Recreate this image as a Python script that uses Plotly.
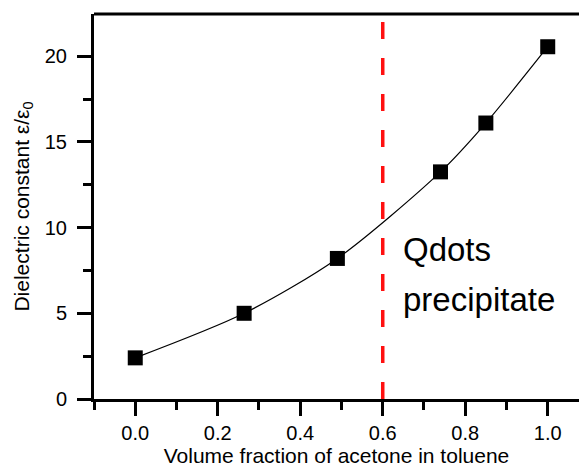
import plotly.graph_objects as go

volume_fraction = [0.0, 0.264, 0.49, 0.74, 0.85, 1.0]
dielectric = [2.4, 5.0, 8.2, 13.25, 16.1, 20.55]
x_ticks = [0.0, 0.2, 0.4, 0.6, 0.8, 1.0]
x_tick_labels = ["0.0", "0.2", "0.4", "0.6", "0.8", "1.0"]
y_ticks = [0, 5, 10, 15, 20]
precip_threshold = 0.6
annotation_lines = ["Qdots", "precipitate"]
annotation_y = [8.7, 5.8]

FONT = "Liberation Sans, Arial, sans-serif"

fig = go.Figure()
fig.add_trace(go.Scatter(
    x=volume_fraction, y=dielectric, mode="lines",
    line=dict(color="black", width=1.2, shape="spline", smoothing=0.8),
    hoverinfo="skip", showlegend=False))
fig.add_trace(go.Scatter(
    x=volume_fraction, y=dielectric, mode="markers",
    marker=dict(symbol="square", size=15, color="black"),
    showlegend=False))

fig.add_shape(type="line", xref="x", yref="paper", x0=precip_threshold, x1=precip_threshold,
              y0=0, y1=1, line=dict(color="#ff1010", width=3.5, dash="17px,19px"))
fig.add_shape(type="line", xref="paper", yref="paper", x0=0, x1=1, y0=1, y1=1,
              line=dict(color="black", width=3))

for txt, yy in zip(annotation_lines, annotation_y):
    fig.add_annotation(x=0.645, y=yy, xref="x", yref="y", text=txt,
                       showarrow=False, xanchor="left", yanchor="middle", align="left",
                       font=dict(family=FONT, size=33, color="black"))

fig.update_layout(
    width=579, height=467,
    margin=dict(l=94, r=0, t=14, b=68),
    plot_bgcolor="white", paper_bgcolor="white",
    font=dict(family=FONT, color="black"),
    showlegend=False,
)
fig.update_xaxes(
    range=[-0.1, 1.0758], showgrid=False, zeroline=False, automargin=False,
    showline=True, linecolor="black", linewidth=3,
    tickmode="array", tickvals=x_ticks, ticktext=x_tick_labels,
    ticks="outside", ticklen=14, tickwidth=2.5, tickcolor="black",
    minor=dict(ticks="outside", ticklen=8, tickwidth=2.5, tickcolor="black", dtick=0.1, tick0=-0.1),
    tickfont=dict(size=20, family=FONT),
    title=dict(text="Volume fraction of acetone in toluene", font=dict(size=21, family=FONT), standoff=4),
)
fig.update_yaxes(
    range=[0, 22.46], showgrid=False, zeroline=False, automargin=False,
    showline=True, linecolor="black", linewidth=3,
    tickmode="array", tickvals=y_ticks,
    ticks="outside", ticklen=14, tickwidth=2.5, tickcolor="black",
    minor=dict(ticks="outside", ticklen=8, tickwidth=2.5, tickcolor="black", dtick=2.5, tick0=0),
    tickfont=dict(size=20, family=FONT), ticklabelstandoff=6,
    title=dict(text="Dielectric constant ε/ε<sub>0</sub>", font=dict(size=21, family=FONT), standoff=10),
)

fig.write_html("out.html", config={"displayModeBar": False},
               post_script="document.body.style.margin='0';document.body.style.padding='0';")
